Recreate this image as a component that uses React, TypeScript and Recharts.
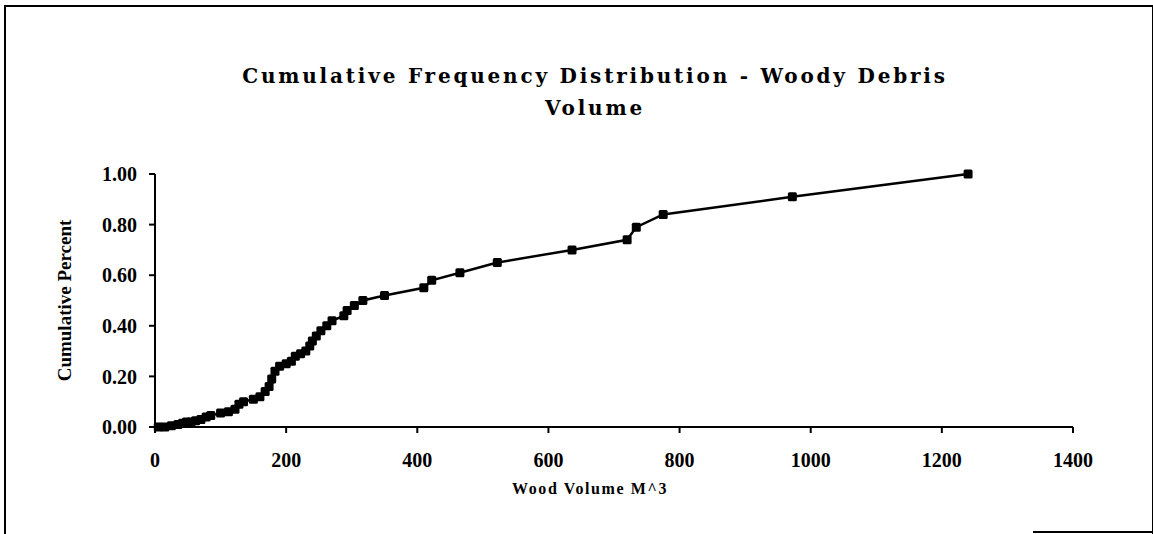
import { LineChart, Line, XAxis, YAxis, Label } from 'recharts';

// wood volume (m^3) and cumulative share
const VOLUMES = [
  5, 15, 25, 35, 42, 48, 55, 62, 70, 78, 85, 100, 112, 122, 128, 135, 150, 160,
  168, 174, 178, 183, 190, 200, 208, 214, 222, 230, 236, 240, 246, 253, 262, 270,
  288, 293, 304, 317, 350, 410, 422, 465, 522, 636, 720, 734, 775, 972, 1240,
];
const CUM_PERCENT = [
  0.0, 0.0, 0.005, 0.01, 0.015, 0.02, 0.02, 0.025, 0.03, 0.04, 0.045, 0.055, 0.06,
  0.07, 0.09, 0.1, 0.11, 0.12, 0.14, 0.16, 0.19, 0.22, 0.24, 0.25, 0.26, 0.28,
  0.29, 0.3, 0.32, 0.34, 0.36, 0.38, 0.4, 0.42, 0.44, 0.46, 0.48, 0.5, 0.52, 0.55,
  0.58, 0.61, 0.65, 0.7, 0.74, 0.79, 0.84, 0.91, 1.0,
];
const X_TICKS = [0, 200, 400, 600, 800, 1000, 1200, 1400];
const Y_TICKS = [0, 0.2, 0.4, 0.6, 0.8, 1.0];

const TITLE_1 = 'Cumulative Frequency Distribution - Woody Debris';
const TITLE_2 = 'Volume';
const X_TITLE = 'Wood Volume M^3';
const Y_TITLE = 'Cumulative Percent';

const data = VOLUMES.map((v, i) => ({ vol: v, pct: CUM_PERCENT[i] }));

const tickFont = { fontFamily: '"Liberation Serif", serif', fontWeight: 700, fontSize: 20, fill: '#000' };

const SquareDot = (props: any) => {
  const { cx, cy } = props;
  if (cx == null || cy == null) return null;
  return <rect x={cx - 4.5} y={cy - 4.5} width={9} height={9} rx={1.5} fill="#000" />;
};

export default function App() {
  return (
    <div style={{ position: 'absolute', left: 0, top: 0, width: 1153, height: 534, background: '#fff' }}>
      {/* frame */}
      <div style={{ position: 'absolute', left: 4, top: 5, width: 1146, height: 529, borderLeft: '2px solid #000', borderTop: '2px solid #000', borderRight: '1px solid #000' }} />
      <div style={{ position: 'absolute', left: 1033, top: 531, width: 120, height: 2, background: '#000' }} />

      <div style={{ position: 'absolute', left: 0, top: 60, width: 1190, textAlign: 'center', fontFamily: '"DejaVu Serif", serif', fontWeight: 700, fontSize: 20, letterSpacing: 2.8, lineHeight: '32px', color: '#000' }}>
        <div>{TITLE_1}</div>
        <div>{TITLE_2}</div>
      </div>

      <div style={{ position: 'absolute', left: 0, top: 479, width: 1180, textAlign: 'center', fontFamily: '"Liberation Serif", serif', fontWeight: 700, fontSize: 16, letterSpacing: 1.6, lineHeight: '20px', color: '#000' }}>
        {X_TITLE}
      </div>

      <div style={{ position: 'absolute', left: 0, top: 0 }}>
        <LineChart width={1153} height={534} data={data} margin={{ top: 174, right: 80, bottom: 47, left: 0 }}>
          <XAxis
            type="number"
            dataKey="vol"
            domain={[0, 1400]}
            ticks={X_TICKS}
            interval={0}
            height={60}
            stroke="#000"
            strokeWidth={2}
            tickSize={6}
            tickMargin={20}
            tick={tickFont}
          />
          <YAxis
            type="number"
            dataKey="pct"
            domain={[0, 1]}
            ticks={Y_TICKS}
            interval={0}
            width={155}
            stroke="#000"
            strokeWidth={2}
            tickSize={6}
            tickMargin={12}
            tickFormatter={(v: number) => v.toFixed(2)}
            tick={tickFont}
          >
            <Label value={Y_TITLE} angle={-90} position="insideLeft" offset={64} style={{ textAnchor: 'middle', fontFamily: '"Liberation Serif", serif', fontWeight: 700, fontSize: 19, fill: '#000' }} />
          </YAxis>
          <Line
            type="linear"
            dataKey="pct"
            stroke="#000"
            strokeWidth={2.5}
            dot={<SquareDot />}
            activeDot={false}
            isAnimationActive={false}
          />
        </LineChart>
      </div>
    </div>
  );
}
